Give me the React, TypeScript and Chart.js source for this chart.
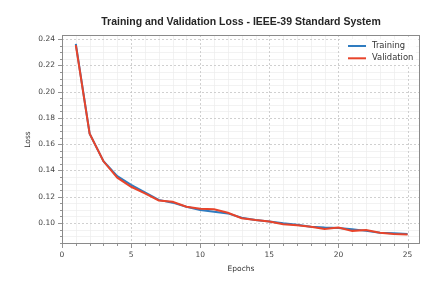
import { useEffect, useRef } from 'react';
import { Chart, registerables } from 'chart.js';

Chart.register(...registerables);

const epochs = [1, 2, 3, 4, 5, 6, 7, 8, 9, 10, 11, 12, 13, 14, 15, 16, 17, 18, 19, 20, 21, 22, 23, 24, 25];
const trainingLoss = [0.2365, 0.168, 0.147, 0.1357, 0.129, 0.1233, 0.1176, 0.1155, 0.1124, 0.1099, 0.1086, 0.1073, 0.104, 0.1022, 0.1012, 0.0998, 0.0987, 0.0972, 0.0965, 0.0962, 0.0952, 0.094, 0.0925, 0.0921, 0.0917];
const validationLoss = [0.2355, 0.168, 0.147, 0.1345, 0.1276, 0.1225, 0.1172, 0.1162, 0.1124, 0.1109, 0.1104, 0.1078, 0.1036, 0.1022, 0.1012, 0.099, 0.0982, 0.0972, 0.0955, 0.0965, 0.094, 0.0947, 0.0925, 0.0917, 0.0912];
const xTickValues = [0, 5, 10, 15, 20, 25];
const yTickValues = [0.1, 0.12, 0.14, 0.16, 0.18, 0.2, 0.22, 0.24];
const seriesLabels = ['Training', 'Validation'];
const seriesColors = ['#2f7cc0', '#e8442b'];
const titleText = 'Training and Validation Loss - IEEE-39 Standard System';
const xTitle = 'Epochs';
const yTitle = 'Loss';

const X_MIN = 0;
const X_MAX = 25.9;
const Y_MIN = 0.084;
const Y_MAX = 0.2432;

const decorPlugin = {
  id: 'decor',
  beforeDatasetsDraw(chart: any) {
    const { ctx, chartArea: a, scales } = chart;
    const xs = scales.x;
    const ys = scales.y;
    ctx.save();
    // minor grid
    ctx.strokeStyle = '#ececec';
    ctx.lineWidth = 0.7;
    ctx.setLineDash([]);
    for (let v = 1; v < X_MAX; v += 1) {
      if (v % 5 === 0) continue;
      const px = Math.round(xs.getPixelForValue(v)) + 0.5;
      ctx.beginPath();
      ctx.moveTo(px, a.top);
      ctx.lineTo(px, a.bottom);
      ctx.stroke();
    }
    for (let i = 17; i * 0.005 < Y_MAX; i++) {
      if (i % 4 === 0) continue;
      const py = Math.round(ys.getPixelForValue(i * 0.005)) + 0.5;
      ctx.beginPath();
      ctx.moveTo(a.left, py);
      ctx.lineTo(a.right, py);
      ctx.stroke();
    }
    // major grid
    ctx.strokeStyle = '#c4c4c4';
    ctx.lineWidth = 0.8;
    ctx.setLineDash([2, 2]);
    xTickValues.forEach((v) => {
      const px = Math.round(xs.getPixelForValue(v)) + 0.5;
      ctx.beginPath();
      ctx.moveTo(px, a.top);
      ctx.lineTo(px, a.bottom);
      ctx.stroke();
    });
    yTickValues.forEach((v) => {
      const py = Math.round(ys.getPixelForValue(v)) + 0.5;
      ctx.beginPath();
      ctx.moveTo(a.left, py);
      ctx.lineTo(a.right, py);
      ctx.stroke();
    });
    ctx.setLineDash([]);
    // frame
    ctx.strokeStyle = '#8a8a8a';
    ctx.lineWidth = 1;
    ctx.strokeRect(a.left + 0.5, a.top + 0.5, a.right - a.left - 1, a.bottom - a.top - 1);
    // tick marks
    ctx.strokeStyle = '#777';
    ctx.lineWidth = 0.8;
    for (let v = 0; v < X_MAX; v += 1) {
      const px = Math.round(xs.getPixelForValue(v)) + 0.5;
      const len = v % 5 === 0 ? 4 : 2;
      ctx.beginPath();
      ctx.moveTo(px, a.bottom);
      ctx.lineTo(px, a.bottom + len);
      ctx.stroke();
    }
    for (let i = 17; i * 0.005 < Y_MAX; i++) {
      const py = Math.round(ys.getPixelForValue(i * 0.005)) + 0.5;
      const len = i % 4 === 0 ? 4 : 2;
      ctx.beginPath();
      ctx.moveTo(a.left, py);
      ctx.lineTo(a.left - len, py);
      ctx.stroke();
    }
    ctx.restore();
  },
  afterDatasetsDraw(chart: any) {
    const { ctx, chartArea: a } = chart;
    ctx.save();
    // legend
    const bx = a.right - 80;
    const by = a.top + 4;
    ctx.fillStyle = 'rgba(255,255,255,0.9)';
    ctx.fillRect(bx, by, 76, 26);
    ctx.font = '8.4px "DejaVu Sans"';
    ctx.textBaseline = 'middle';
    ctx.textAlign = 'left';
    seriesLabels.forEach((lab, i) => {
      const y = by + 7 + i * 12.3;
      ctx.strokeStyle = seriesColors[i];
      ctx.lineWidth = 2;
      ctx.beginPath();
      ctx.moveTo(bx + 8, y);
      ctx.lineTo(bx + 26, y);
      ctx.stroke();
      ctx.fillStyle = '#333';
      ctx.fillText(lab, bx + 32, y);
    });
    ctx.restore();
  },
  afterDraw(chart: any) {
    const { ctx, chartArea: a } = chart;
    ctx.save();
    ctx.fillStyle = '#262626';
    ctx.textAlign = 'center';
    ctx.textBaseline = 'middle';
    ctx.font = 'bold 10.5px "Liberation Sans"';
    ctx.fillText(titleText, (a.left + a.right) / 2, 22.5);
    ctx.fillStyle = '#333';
    ctx.font = '7.5px "DejaVu Sans"';
    ctx.fillText(xTitle, (a.left + a.right) / 2, 269);
    ctx.translate(28, (a.top + a.bottom) / 2);
    ctx.rotate(-Math.PI / 2);
    ctx.fillText(yTitle, 0, 0);
    ctx.restore();
  },
};

export default function App() {
  const ref = useRef<HTMLCanvasElement>(null);
  useEffect(() => {
    if (!ref.current) return;
    const tickFont = { family: '"DejaVu Sans"', size: 7.5 };
    const chart = new Chart(ref.current, {
      type: 'line',
      data: {
        datasets: [
          {
            label: seriesLabels[0],
            data: epochs.map((e, i) => ({ x: e, y: trainingLoss[i] })),
            borderColor: seriesColors[0],
            backgroundColor: seriesColors[0],
            borderWidth: 2,
            pointRadius: 0,
            tension: 0,
            order: 1,
          },
          {
            label: seriesLabels[1],
            data: epochs.map((e, i) => ({ x: e, y: validationLoss[i] })),
            borderColor: seriesColors[1],
            backgroundColor: seriesColors[1],
            borderWidth: 2,
            pointRadius: 0,
            tension: 0,
            order: 0,
          },
        ],
      },
      options: {
        animation: false,
        responsive: false,
        devicePixelRatio: 1,
        layout: { padding: { top: 35, right: 26, left: 0, bottom: 0 } },
        plugins: { legend: { display: false }, title: { display: false }, tooltip: { enabled: false } },
        scales: {
          x: {
            type: 'linear',
            min: X_MIN,
            max: X_MAX,
            grid: { display: false, drawTicks: false },
            border: { display: false },
            ticks: { font: tickFont, color: '#444', padding: 7, maxRotation: 0 },
            afterBuildTicks: (s: any) => {
              s.ticks = xTickValues.map((v) => ({ value: v }));
            },
            afterFit: (s: any) => {
              s.height = 46;
            },
          },
          y: {
            type: 'linear',
            min: Y_MIN,
            max: Y_MAX,
            grid: { display: false, drawTicks: false },
            border: { display: false },
            ticks: {
              font: tickFont,
              color: '#444',
              padding: 7,
              callback: (v: any) => Number(v).toFixed(2),
            },
            afterBuildTicks: (s: any) => {
              s.ticks = yTickValues.map((v) => ({ value: v }));
            },
            afterFit: (s: any) => {
              s.width = 62;
            },
          },
        },
      },
      plugins: [decorPlugin],
    } as any);
    return () => chart.destroy();
  }, []);
  return (
    <div style={{ position: 'fixed', left: 0, top: 0, width: 446, height: 290, background: '#fff' }}>
      <canvas ref={ref} width={446} height={290} style={{ display: 'block' }} />
    </div>
  );
}
